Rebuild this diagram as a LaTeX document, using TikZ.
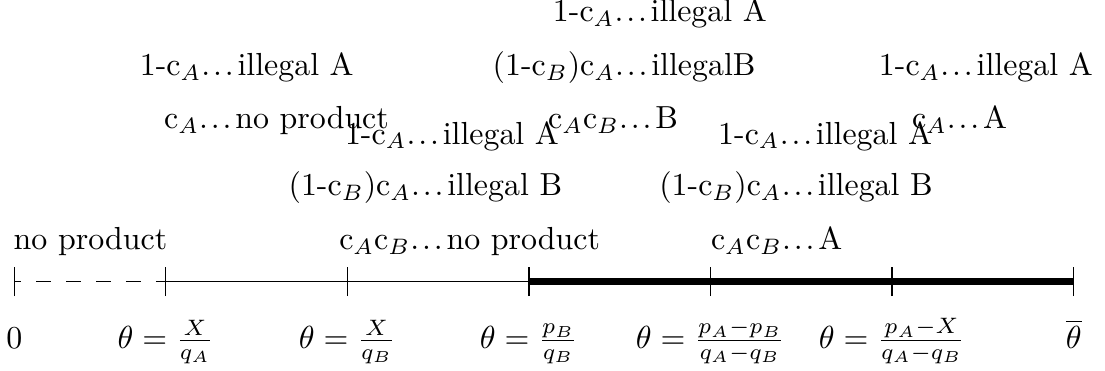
\documentclass[tikz,border=0pt]{standalone}
\newcommand{\dts}{.\kern.09em.\kern.09em.\kern.12em}
\begin{document}
\begin{tikzpicture}[lbl/.style={anchor=base}]
\useasboundingbox (-0.1575,-0.975) rectangle (12.012,3.100);
\foreach \x [count=\i from 0] in {0,1.667,3.667,5.667,7.667,9.667,11.667}
	\coordinate (t\i) at (\x,0);
\draw[dash pattern=on 4.7pt off 4.7pt,dash phase=2.6pt] (t0) -- (t1);
\draw (t1) -- (t3);
\draw[line width=2pt] (t3) -- (t6);
\foreach \i in {0,...,6}
	\draw (t\i) +(0,-.16) -- +(0,.16);
\foreach \i/\l in {0/0,1/{$\theta=\frac{X}{q_A}$},2/{$\theta=\frac{X}{q_B}$},3/{$\theta=\frac{p_B}{q_B}$},
	4/{$\theta=\frac{p_A-p_B}{q_A-q_B}$},5/{$\theta=\frac{p_A-X}{q_A-q_B}$},6/{$\overline{\theta}$}}
	\node[lbl] (b\i) at ([yshift=-.735cm]t\i) {\l};
% regions
\node[lbl] (np0) at (0.839,0.347) {no product};
\node[lbl] (np1) at (5.015,0.347) {c$_A$c$_B$\dts no product};
\node[lbl] (pa1) at (8.396,0.347) {c$_A$c$_B$\dts A};
\node[lbl] (ib1) at (4.527,0.942) {(1-c$_B$)c$_A$\dts illegal B};
\node[lbl] (ib2) at (8.609,0.942) {(1-c$_B$)c$_A$\dts illegal B};
\node[lbl] (ia1) at (4.82,1.514) {1-c$_A$\dts illegal A};
\node[lbl] (ia2) at (8.93,1.514) {1-c$_A$\dts illegal A};
\node[lbl] (np2) at (2.888,1.680) {c$_A$\dts no product};
\node[lbl] (pb1) at (6.594,1.680) {c$_A$c$_B$\dts B};
\node[lbl] (pa2) at (10.41,1.680) {c$_A$\dts A};
\node[lbl] (ia3) at (2.56,2.263) {1-c$_A$\dts illegal A};
\node[lbl] (ib3) at (6.716,2.263) {(1-c$_B$)c$_A$\dts illegalB};
\node[lbl] (ia4) at (10.70,2.263) {1-c$_A$\dts illegal A};
\node[lbl] (ia5) at (7.11,2.861) {1-c$_A$\dts illegal A};
\end{tikzpicture}
\end{document}
